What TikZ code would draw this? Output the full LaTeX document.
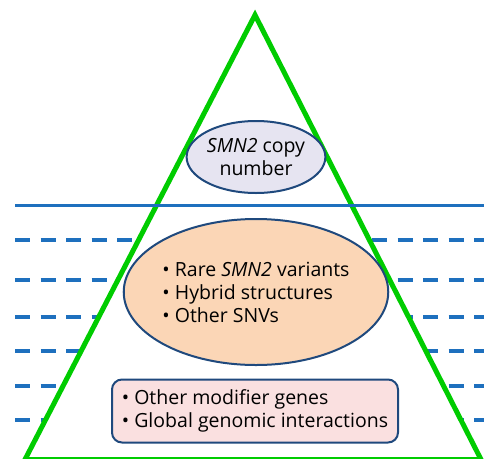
\documentclass[tikz,border=0pt]{standalone}
\usepackage{fontspec}
\setmainfont{Open Sans}
\usepackage{xcolor}
\usetikzlibrary{positioning}
\usetikzlibrary{shapes.geometric}
\definecolor{pyrgreen}{RGB}{0,204,0}
\definecolor{lineblue}{RGB}{30,112,190}
\definecolor{borderblue}{RGB}{31,73,125}
\definecolor{lavender}{RGB}{230,228,241}
\definecolor{peach}{RGB}{251,214,182}
\definecolor{palepink}{RGB}{250,224,224}

\begin{document}
\begin{tikzpicture}[x=1pt, y=-1pt, font=\fontsize{19.5}{23}\selectfont,
    level/.style={lineblue, line width=3.2pt, dash pattern=on 15pt off 10.5pt},
    bubble/.style={ellipse, draw=borderblue, line width=2pt, inner sep=0pt}]
			    		\useasboundingbox (0,0) rectangle (484,458);
			    		\coordinate (apex) at (255,15);
			    		\coordinate (right) at (481,459.5);
			    		\coordinate (left) at (25,459.5);
			    		\foreach \y in {240,280,317,351,386,420}
			    			\draw[level] (15,\y)--(484,\y);
			    		\filldraw[pyrgreen, fill=white, line width=5pt] (apex)--(right)--(left)--cycle;
			    		\draw[lineblue, line width=3pt] (15,205)--(484,205);
			    		\node[bubble, fill=lavender, minimum width=122pt, minimum height=72pt, align=center] (copies) at (256,157) {\textit{SMN2} copy\\number};
			    		\node[bubble, fill=peach, minimum width=262pt, minimum height=146pt, align=left] (variants) at (256,292) {\textbullet{} Rare \textit{SMN2} variants\\\textbullet{} Hybrid structures\\\textbullet{} Other SNVs};
			    		\node[draw=borderblue, line width=2pt, fill=palepink, rounded corners=10pt, minimum width=286pt, minimum height=63pt, align=left] (modifiers) at (255,411) {\textbullet{} Other modifier genes\\\textbullet{} Global genomic interactions};
			    	\end{tikzpicture}
\end{document}
